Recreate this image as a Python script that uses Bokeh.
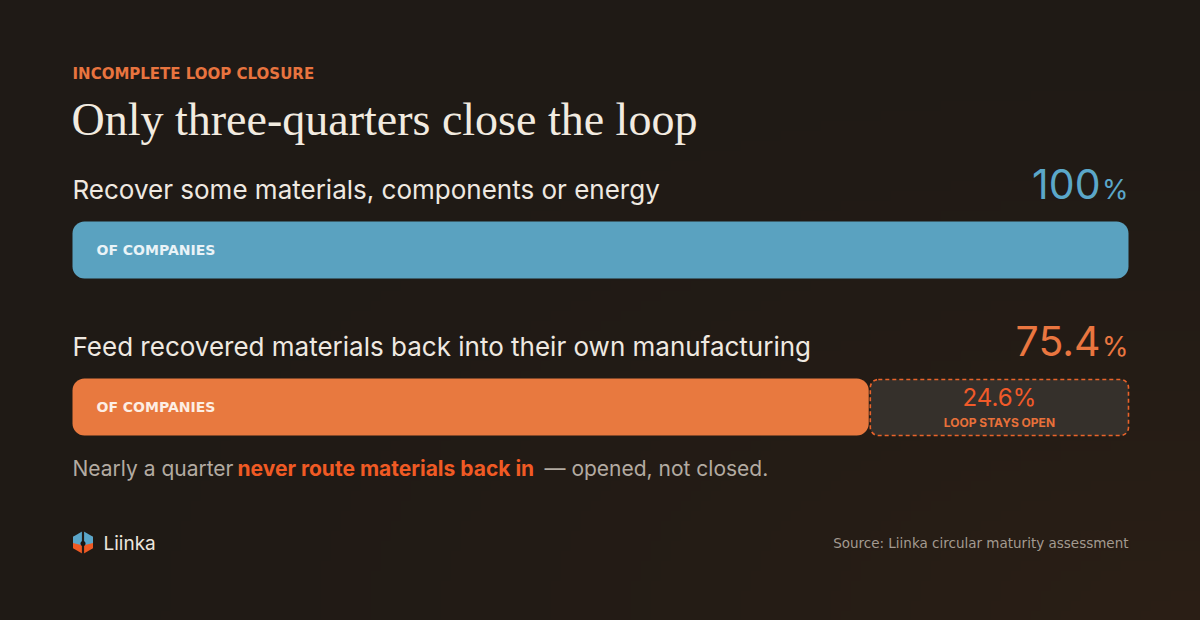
import numpy as np
from bokeh.plotting import figure
from bokeh.models import Range1d
from bokeh.core.properties import value
from bokeh.embed import file_html
from bokeh.resources import INLINE

# ---------------- data ----------------
eyebrow = "INCOMPLETE LOOP CLOSURE"
title = "Only three-quarters close the loop"
categories = ["Recover some materials, components or energy",
              "Feed recovered materials back into their own manufacturing"]
shares = [100.0, 75.4]            # % of companies
share_labels = ["100", "75.4"]
bar_caption = "OF COMPANIES"
gap_caption = "LOOP STAYS OPEN"
note_parts = ["Nearly a quarter", "never route materials back in", "\u2014 opened, not closed."]
brand = "Liinka"
source = "Source: Liinka circular maturity assessment"

# ---------------- styling ----------------
BG = "#211b16"
SANS = "Inter"
WIDE = "DejaVu Sans"
SERIF = "Liberation Serif"
BAR_COLORS = ["#5aa2c0", "#e8793f"]
NUM_COLORS = ["#5ba7c9", "#ea7640"]
CAP_COLORS = ["#eaf3f7", "#fdeee4"]

W, H = 1200, 620
# x in percent units: 0 -> px 72, 100 -> px 1128
PX_PER_UNIT = (1128 - 72) / 100.0
def X(px):
    return (px - 72) / PX_PER_UNIT

p = figure(width=W, height=H, output_backend="svg", toolbar_location=None,
           x_range=Range1d(X(0), X(W)), y_range=Range1d(H, 0),
           min_border=0, outline_line_color=None,
           background_fill_color=BG, border_fill_color=BG)
p.axis.visible = False
p.grid.visible = False

# subtle warm glow (bottom-right)
ny, nx = 62, 120
yy, xx = np.mgrid[0:ny, 0:nx]
d = np.sqrt(((nx - xx) / nx) ** 2 + ((ny - yy) / ny) ** 2)
t = np.clip(1 - d / 1.1, 0, 1) ** 1.6
base = np.array([31, 26, 22], dtype=float)
glow = np.array([43, 31, 21], dtype=float)
rgb = base[None, None, :] * (1 - t[..., None]) + glow[None, None, :] * t[..., None]
img = np.zeros((ny, nx), dtype=np.uint32)
view = img.view(dtype=np.uint8).reshape((ny, nx, 4))
view[..., 0] = rgb[..., 0].astype(np.uint8)
view[..., 1] = rgb[..., 1].astype(np.uint8)
view[..., 2] = rgb[..., 2].astype(np.uint8)
view[..., 3] = 255
p.image_rgba(image=[img], x=X(0), y=0, dw=X(W) - X(0), dh=H)

# ---------------- header ----------------
p.text(x=[X(72)], y=[73], text=[eyebrow], text_font=value(WIDE), text_font_size="15px",
       text_font_style="bold", text_color="#e8743f", text_baseline="alphabetic")
p.text(x=[X(71)], y=[119], text=[title], text_font=value(SERIF), text_font_size="46px",
       text_color="#f2ebe0", text_baseline="alphabetic")

# ---------------- bars ----------------
bar_tops = [221, 378]
bar_h = 57
label_y = [189, 346]
num_y = [183, 340]
for i, (cat, v) in enumerate(zip(categories, shares)):
    top = bar_tops[i]
    bot = top + bar_h
    p.text(x=[X(72)], y=[label_y[i]], text=[cat], text_font=value(SANS),
           text_font_size="26px", text_color="#efe9e1", text_baseline="alphabetic")
    # big number, smaller percent sign
    p.text(x=[100], y=[label_y[i]], text=["%"], text_font=value(SANS),
           text_font_size="27px", text_color=NUM_COLORS[i], text_align="right",
           text_baseline="alphabetic")
    p.text(x=[X(1100)], y=[num_y[i]], text=[share_labels[i]],
           text_font=value(SANS), text_font_size="41px", text_color=NUM_COLORS[i],
           text_align="right", text_baseline="alphabetic")
    p.quad(left=[0], right=[v], top=[top], bottom=[bot], fill_color=BAR_COLORS[i],
           line_color=None, border_radius=12)
    p.text(x=[X(96)], y=[top + 28], text=[bar_caption], text_font=value(WIDE),
           text_font_size="14px", text_font_style="bold", text_color=CAP_COLORS[i],
           text_baseline="alphabetic")

# remaining gap for the second bar
gap_left = shares[1] + 0.15
p.quad(left=[gap_left], right=[100], top=[bar_tops[1] + 1], bottom=[bar_tops[1] + bar_h],
       fill_color="#35302b", line_color="#e8632b", line_width=1.6, line_dash="4 3",
       border_radius=8)
gap_mid = (gap_left + 100) / 2
p.text(x=[gap_mid], y=[397], text=[f"{100 - shares[1]:.1f}%"], text_font=value(SANS),
       text_font_size="24px", text_color="#f15a29", text_align="center",
       text_baseline="alphabetic")
p.text(x=[gap_mid], y=[421.5], text=[gap_caption], text_font=value(SANS),
       text_font_size="12px", text_font_style="bold", text_color="#e8703a",
       text_align="center", text_baseline="alphabetic")

# ---------------- note ----------------
note_x = [72, 237, 544]
note_colors = ["#b3aba2", "#f05a24", "#b3aba2"]
note_styles = ["normal", "bold", "normal"]
for nxp, part, col, sty in zip(note_x, note_parts, note_colors, note_styles):
    p.text(x=[X(nxp)], y=[467.5], text=[part], text_font=value(SANS), text_font_size="21px",
           text_font_style=sty, text_color=col, text_baseline="alphabetic")

# ---------------- footer: logo ----------------
cx, cy, r = 82.5, 542.0, 11.5
p.patch(x=[X(v) for v in [cx - 10, cx + 10, cx + 10, cx, cx - 10]],
        y=[cy - r / 2, cy - r / 2, cy + r / 2, cy + r, cy + r / 2],
        fill_color="#ef5a24", line_color=None)
p.patch(x=[X(v) for v in [cx, cx + 10, cx + 10, cx, cx - 10, cx - 10]],
        y=[cy - r, cy - r / 2, cy + 0.5, cy + 3, cy + 0.5, cy - r / 2],
        fill_color="#5aa6c9", line_color=None)
p.segment(x0=[X(cx)], y0=[cy - r], x1=[X(cx)], y1=[cy + r], line_color=BG, line_width=2.2)
p.scatter(x=[X(cx)], y=[cy + 1], size=5, fill_color="#1a1511", line_color=None)
p.text(x=[X(103)], y=[543], text=[brand], text_font=value(SANS), text_font_size="19px",
       text_color="#ece6de", text_baseline="alphabetic")

p.text(x=[100], y=[542], text=[source], text_font=value(WIDE), text_font_size="13.5px",
       text_color="#a39a90", text_align="right", text_baseline="alphabetic")

html = file_html(p, INLINE)
style = ("<style>html,body{margin:0 !important;padding:0 !important;"
         "background:#211b16 !important;overflow:hidden;}</style>")
html = html.replace("</head>", style + "</head>", 1)
open("out.html", "w").write(html)
